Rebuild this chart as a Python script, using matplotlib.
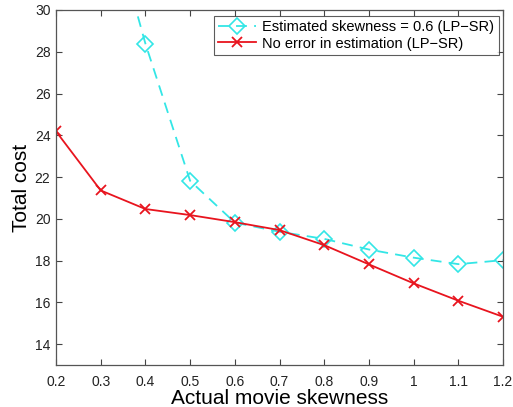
import numpy as np
import matplotlib
matplotlib.use('Agg')
import matplotlib.pyplot as plt

# data
skewness = [0.2, 0.3, 0.4, 0.5, 0.6, 0.7, 0.8, 0.9, 1.0, 1.1, 1.2]
est_x = [0.3, 0.4, 0.5, 0.6, 0.7, 0.8, 0.9, 1.0, 1.1, 1.2]
est_cost = [36.1, 28.39, 21.82, 19.82, 19.38, 19.04, 18.53, 18.14, 17.83, 18.02]
exact_cost = [24.19, 21.36, 20.47, 20.18, 19.84, 19.46, 18.74, 17.82, 16.91, 16.08, 15.31]

xticks = [0.2, 0.3, 0.4, 0.5, 0.6, 0.7, 0.8, 0.9, 1, 1.1, 1.2]
xtick_labels = ['0.2', '0.3', '0.4', '0.5', '0.6', '0.7', '0.8', '0.9', '1', '1.1', '1.2']
yticks = [14, 16, 18, 20, 22, 24, 26, 28, 30]

plt.rcParams['font.family'] = ['Liberation Sans', 'DejaVu Sans']

fig = plt.figure(figsize=(5.13, 4.07), dpi=100)
ax = fig.add_axes([56 / 513, 1 - 365 / 407, (503 - 56) / 513, (365 - 10) / 407])

ax.plot(est_x, est_cost, linestyle=(0, (6, 4)), color='#33e6e6', lw=1.3,
        marker='D', markersize=8, markerfacecolor='none', markeredgewidth=1.2,
        label='Estimated skewness = 0.6 (LP\u2212SR)')
ax.plot(skewness, exact_cost, '-', color='#e8141e', lw=1.3,
        marker='x', markersize=7, markeredgewidth=1.3,
        label='No error in estimation (LP\u2212SR)')

ax.set_xlim(0.2, 1.2)
ax.set_ylim(13, 30)
ax.set_xticks(xticks)
ax.set_xticklabels(xtick_labels)
ax.set_yticks(yticks)
ax.tick_params(direction='in', top=True, right=True, length=4, width=0.8,
               colors='#444444', labelcolor='#222222', labelsize=10)
ax.tick_params(axis='x', pad=7)
ax.tick_params(axis='y', pad=4)
for sp in ax.spines.values():
    sp.set_color('#555555')
    sp.set_linewidth(0.9)

ax.set_xlabel('Actual movie skewness', fontsize=15, labelpad=0)
ax.set_ylabel('Total cost', fontsize=15, labelpad=3)

leg = ax.legend(loc='upper right', bbox_to_anchor=(0.99, 0.983), fontsize=10.5,
                frameon=True, fancybox=False, handlelength=2.6, borderpad=0.3,
                labelspacing=0.15, handletextpad=0.4, borderaxespad=0)
leg.get_frame().set_edgecolor('#333333')
leg.get_frame().set_linewidth(0.8)

fig.savefig('out.png', dpi=100)
